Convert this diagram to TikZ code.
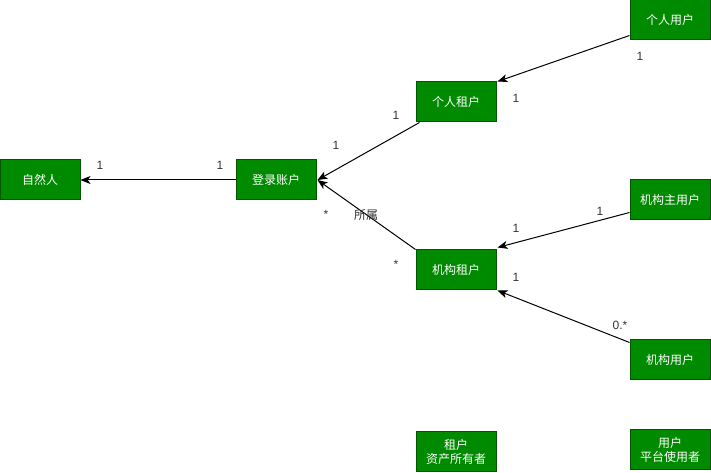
\documentclass[tikz,border=0pt]{standalone}
\usepackage{fontspec}
\setmainfont{Liberation Sans}
\newfontfamily\cjk{Noto Sans CJK SC}
\usetikzlibrary{arrows.meta,calc}
\definecolor{boxfill}{HTML}{008A00}
\definecolor{boxline}{HTML}{005700}
\definecolor{lbl}{HTML}{333333}
\tikzset{
  ent/.style={draw=boxline, fill=boxfill, line width=0.75pt, minimum width=80*0.75pt, minimum height=40*0.75pt, inner sep=0pt, text=white, font=\cjk\fontsize{9}{11}\selectfont, align=center},
  mult/.style={text=lbl, font=\fontsize{9}{11}\selectfont, inner sep=0pt},
  rel/.style={draw=black, line width=0.75pt, -{Stealth[length=7.5pt,width=6pt,inset=2pt]}},
}
\begin{document}
\begin{tikzpicture}[x=0.75pt,y=-0.75pt]
\useasboundingbox (0,0) rectangle (711,473);
\node[ent] (zrr) at (40,180) {自然人};
\node[ent] (dlzh) at (276,180) {登录账户};
\node[ent] (grzh) at (456,102) {个人租户};
\node[ent] (gryh) at (670,20) {个人用户};
\node[ent] (jgzyh) at (670,200) {机构主用户};
\node[ent] (jgzh) at (456,270) {机构租户};
\node[ent] (jgyh) at (670,360) {机构用户};
\node[ent] (zhzc) at (456,452) {租户\\资产所有者};
\node[ent] (yhpt) at (670,450) {用户\\平台使用者};

\coordinate (grzhS) at ($(grzh.south west)+(4,0)$);
\coordinate (gryhS) at ($(gryh.south west)+(0,-5)$);
\coordinate (jgzyhS) at ($(jgzyh.south west)+(0,-8)$);
\coordinate (jgyhS) at ($(jgyh.north west)+(0,3)$);
\coordinate (dlzhE) at ($(dlzh.east)+(1,0)$);

\draw[rel] (dlzh.west) -- (zrr.east);
\draw[rel] (grzhS) -- (dlzhE);
\draw[rel] (jgzh.north west) -- (dlzhE);
\draw[rel] (gryhS) -- ($(grzh.north east)+(1,0)$);
\draw[rel] (jgzyhS) -- ($(jgzh.north east)+(1,-2)$);
\draw[rel] (jgyhS) -- ($(jgzh.south east)+(1,0)$);

\node[mult] (m1) at (100,165) {1};
\node[mult] (m2) at (220,165) {1};
\node[mult] (m3) at (396,115) {1};
\node[mult] (m4) at (336,145) {1};
\node[mult] (m5) at (326,214) {*};
\node[mult] (m6) at (396,264) {*};
\node[mult, font=\cjk\fontsize{9}{11}\selectfont] (ss) at (366,215) {所属};
\node[mult] (m7) at (640,56) {1};
\node[mult] (m8) at (516,98) {1};
\node[mult] (m9) at (600,211) {1};
\node[mult] (m10) at (516,228) {1};
\node[mult] (m11) at (620,325) {0.*};
\node[mult] (m12) at (516,277) {1};
\end{tikzpicture}
\end{document}
